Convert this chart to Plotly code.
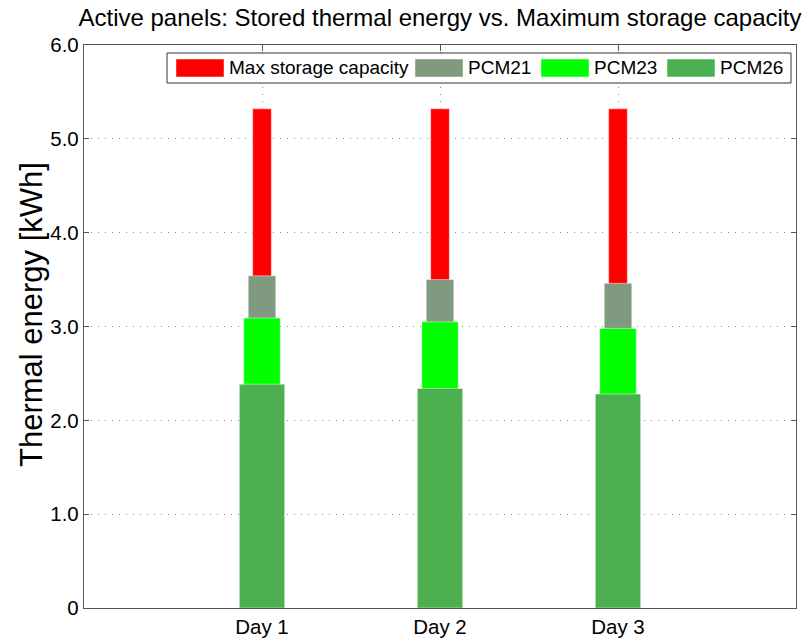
import plotly.graph_objects as go

# ---- data ----
days = ["Day 1", "Day 2", "Day 3"]
day_pos = [1, 2, 3]
max_capacity = [5.32, 5.32, 5.32]
pcm21 = [3.54, 3.50, 3.46]
pcm23 = [3.09, 3.05, 2.98]
pcm26 = [2.385, 2.34, 2.28]
series_names = ["Max storage capacity", "PCM21", "PCM23", "PCM26"]
y_tick_vals = [0, 1, 2, 3, 4, 5, 6]
y_tick_text = ["0", "1.0", "2.0", "3.0", "4.0", "5.0", "6.0"]

# ---- styles ----
colors = ["#FF0000", "#7F9A7F", "#00FF00", "#4CB050"]
bar_widths = [0.105, 0.155, 0.205, 0.255]
FONT = "Liberation Sans, Arial, sans-serif"

W, H = 805, 638
ML, MR, MT, MB = 84, 9, 45, 30
PW, PH = W - ML - MR, H - MT - MB


def px_x(px):
    return (px - ML) / PW


def px_y(py):
    return (H - MB - py) / PH


fig = go.Figure()
series_values = [max_capacity, pcm21, pcm23, pcm26]
for name, vals, c, w in zip(series_names, series_values, colors, bar_widths):
    fig.add_trace(go.Bar(
        x=day_pos, y=vals, name=name, width=w,
        marker=dict(color=c, line=dict(color="rgba(255,255,255,0.45)", width=1)),
        showlegend=False,
    ))

# ---- custom legend (wide swatches like the original) ----
shapes = [dict(type="rect", xref="paper", yref="paper",
               x0=px_x(167), x1=px_x(791), y0=px_y(83), y1=px_y(53),
               fillcolor="white", line=dict(color="#333333", width=1), layer="above")]
annotations = []
swatch_x0 = [176, 415, 541, 667]
for name, c, x0 in zip(series_names, colors, swatch_x0):
    shapes.append(dict(type="rect", xref="paper", yref="paper",
                       x0=px_x(x0), x1=px_x(x0 + 48), y0=px_y(77), y1=px_y(59),
                       fillcolor=c, line=dict(color="rgba(255,255,255,0.45)", width=1),
                       layer="above"))
    annotations.append(dict(xref="paper", yref="paper", x=px_x(x0 + 51), y=px_y(68),
                            xanchor="left", yanchor="middle", showarrow=False,
                            text=name, font=dict(family=FONT, size=19, color="black")))

# y-axis title placed like the original (slightly above the axis centre)
annotations.append(dict(xref="paper", yref="paper", x=px_x(31), y=px_y(315),
                        xanchor="center", yanchor="middle", showarrow=False, textangle=-90,
                        text="Thermal energy [kWh]",
                        font=dict(family=FONT, size=31, color="black")))

fig.update_layout(
    width=W, height=H,
    margin=dict(l=ML, r=MR, t=MT, b=MB, autoexpand=False),
    barmode="overlay",
    plot_bgcolor="white", paper_bgcolor="white",
    font=dict(family=FONT, color="black"),
    title=dict(text="Active panels: Stored thermal energy vs. Maximum storage capacity",
               x=0.5, xref="paper", xanchor="center",
               y=1 - 18 / H, yref="container", yanchor="middle",
               font=dict(family=FONT, size=24, color="black")),
    shapes=shapes,
    annotations=annotations,
)

GRID = dict(showgrid=True, gridcolor="#8c8c8c", griddash="1px,6px", gridwidth=1)
fig.update_xaxes(
    range=[0, 4], tickvals=day_pos, ticktext=days,
    tickfont=dict(family=FONT, size=20.5, color="black"),
    showline=True, linecolor="#555555", linewidth=1.3, mirror="ticks",
    ticks="inside", ticklen=6, tickcolor="#555555", tickwidth=1,
    layer="below traces", zeroline=False, **GRID,
)
fig.update_yaxes(
    range=[0, 6], tickvals=y_tick_vals, ticktext=y_tick_text,
    tickfont=dict(family=FONT, size=20.5, color="black"),
    showline=True, linecolor="#555555", linewidth=1.3, mirror="ticks",
    ticks="inside", ticklen=5, tickcolor="#555555", tickwidth=1,
    layer="below traces", zeroline=False, **GRID,
)

fig.write_html("out.html",
               config={"displayModeBar": False},
               post_script="document.body.style.margin='0';document.body.style.overflow='hidden';")
